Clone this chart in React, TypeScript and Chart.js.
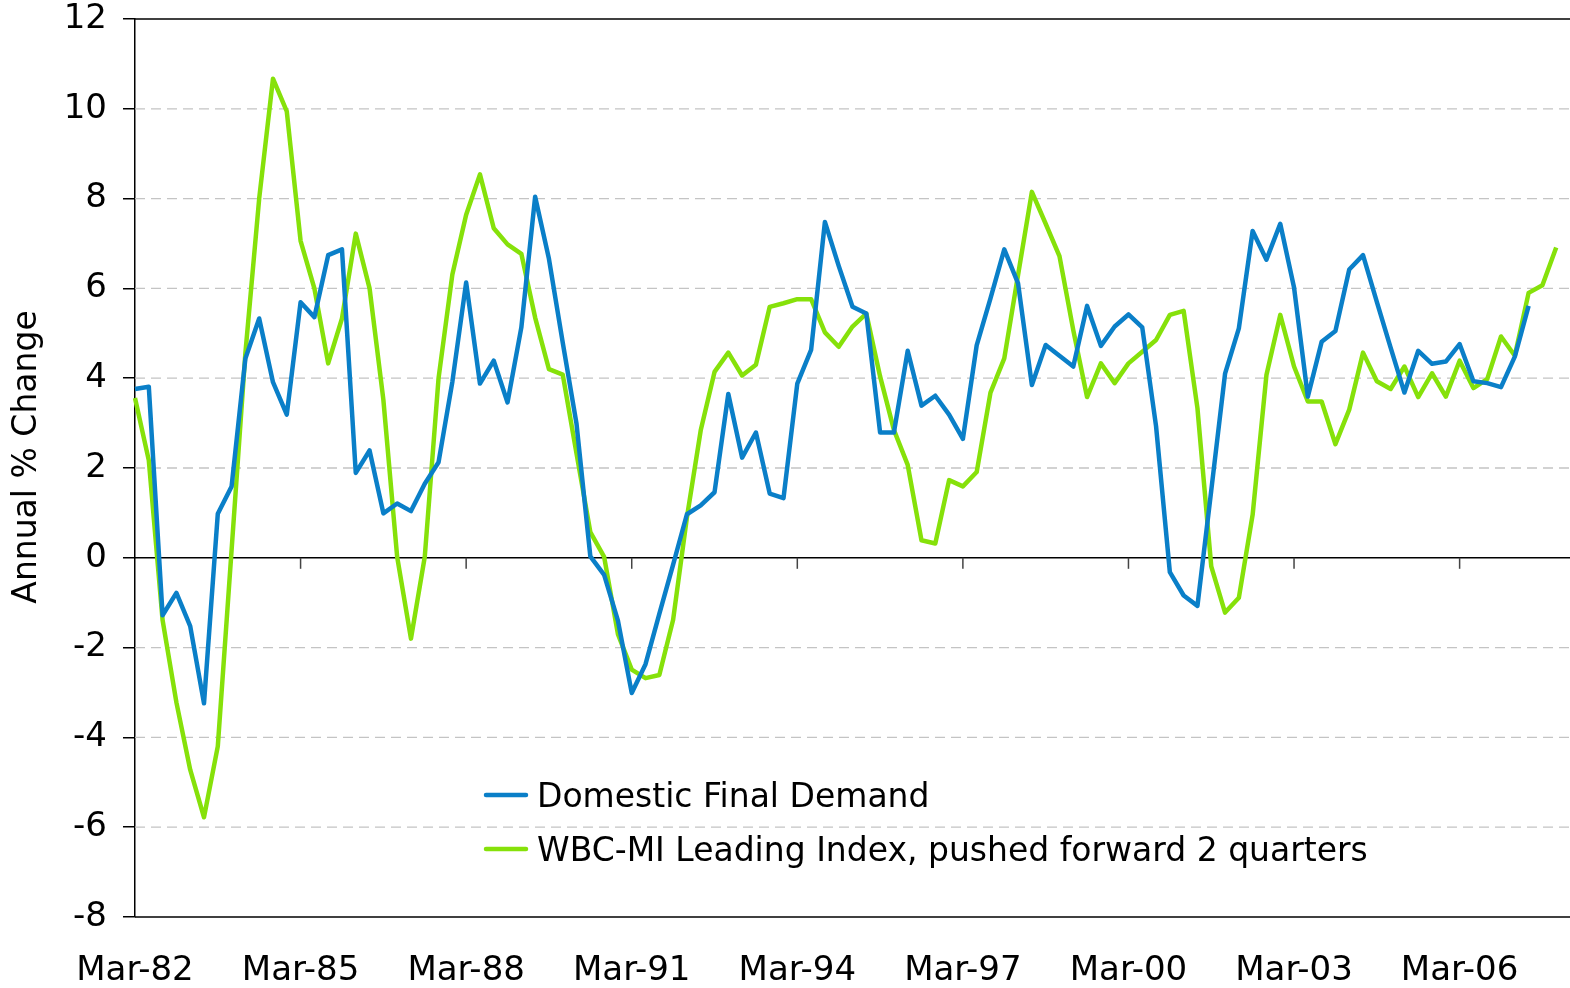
import React, { useEffect, useRef } from "react";
import { Chart, registerables } from "chart.js";

Chart.register(...registerables);

// Quarterly categories, Mar-82 .. Mar-08
const quarterMonths = ["Mar", "Jun", "Sep", "Dec"];
const firstYear = 1982;
const categoryCount = 105;
const categories: string[] = [];
for (let k = 0; k < categoryCount; k++) {
  const yr = firstYear + Math.floor(k / 4);
  categories.push(quarterMonths[k % 4] + "-" + String(yr % 100).padStart(2, "0"));
}
const tickLabelEvery = 12;

const yMin = -8;
const yMax = 12;
const yStep = 2;

const domesticFinalDemand: (number | null)[] = [
  3.76, 3.81, -1.28, -0.78, -1.52, -3.24, 0.98, 1.59, 4.44, 5.33,
  3.91, 3.19, 5.69, 5.36, 6.74, 6.87, 1.89, 2.39, 0.99, 1.21,
  1.04, 1.65, 2.13, 3.92, 6.13, 3.88, 4.39, 3.46, 5.13, 8.04,
  6.66, 4.79, 2.98, 0.03, -0.38, -1.4, -3.01, -2.37, -1.25, -0.15,
  0.97, 1.17, 1.46, 3.65, 2.23, 2.79, 1.43, 1.33, 3.88, 4.63,
  7.48, 6.5, 5.59, 5.44, 2.79, 2.79, 4.61, 3.39, 3.61, 3.19,
  2.65, 4.73, 5.78, 6.87, 6.11, 3.85, 4.74, 4.5, 4.26, 5.61,
  4.72, 5.15, 5.42, 5.13, 2.93, -0.32, -0.84, -1.07, 1.5, 4.1,
  5.11, 7.28, 6.64, 7.44, 6.02, 3.59, 4.81, 5.05, 6.42, 6.74,
  5.7, 4.68, 3.68, 4.61, 4.32, 4.37, 4.76, 3.93, 3.89, 3.8,
  4.48, 5.61, null, null, null,
];

const leadingIndexShifted: (number | null)[] = [
  3.56, 2.17, -1.39, -3.22, -4.72, -5.78, -4.2, 0.17, 4.56, 8.0,
  10.67, 9.94, 7.06, 6.0, 4.33, 5.33, 7.22, 6.0, 3.52, 0.02,
  -1.8, 0.02, 4.0, 6.31, 7.64, 8.54, 7.34, 6.98, 6.77, 5.35,
  4.2, 4.08, 2.32, 0.57, 0.02, -1.7, -2.49, -2.68, -2.61, -1.38,
  0.9, 2.84, 4.14, 4.57, 4.06, 4.3, 5.59, 5.67, 5.76, 5.76,
  5.02, 4.7, 5.15, 5.44, 4.04, 2.85, 2.07, 0.39, 0.32, 1.73,
  1.59, 1.91, 3.68, 4.44, 6.3, 8.15, 7.44, 6.72, 5.07, 3.58,
  4.33, 3.89, 4.33, 4.59, 4.85, 5.41, 5.5, 3.33, -0.19, -1.22,
  -0.89, 0.96, 4.07, 5.41, 4.26, 3.48, 3.48, 2.53, 3.3, 4.57,
  3.93, 3.76, 4.26, 3.58, 4.11, 3.59, 4.39, 3.78, 3.98, 4.93,
  4.5, 5.9, 6.07, 6.91, null,
];

const seriesNames = [
  "Domestic Final Demand",
  "WBC-MI Leading Index, pushed forward 2 quarters",
];
const seriesColors = ["#0a7fc8", "#86e10a"];
const yTitle = "Annual % Change";
const FONT = "'DejaVu Sans', Verdana, sans-serif";

const gridPlugin = {
  id: "customGrid",
  beforeDatasetsDraw(chart: any) {
    const { ctx, chartArea, scales } = chart;
    const x = scales.x;
    const y = scales.y;
    ctx.save();
    for (let v = yMin; v <= yMax; v += yStep) {
      const py = y.getPixelForValue(v);
      ctx.beginPath();
      if (v === 0 || v === yMin || v === yMax) {
        ctx.setLineDash([]);
        ctx.strokeStyle = "#000";
        ctx.lineWidth = 1.5;
      } else {
        ctx.setLineDash([10, 6]);
        ctx.strokeStyle = "#c4c4c4";
        ctx.lineWidth = 1.3;
      }
      ctx.moveTo(chartArea.left, py);
      ctx.lineTo(chartArea.right, py);
      ctx.stroke();
    }
    ctx.setLineDash([]);
    const y0 = y.getPixelForValue(0);
    ctx.strokeStyle = "#444";
    ctx.lineWidth = 1.5;
    for (let i = tickLabelEvery; i < categories.length; i += tickLabelEvery) {
      const px = x.getPixelForValue(i);
      ctx.beginPath();
      ctx.moveTo(px, y0);
      ctx.lineTo(px, y0 + 11);
      ctx.stroke();
    }
    ctx.restore();
  },
};

const textPlugin = {
  id: "customText",
  afterDraw(chart: any) {
    const { ctx } = chart;
    ctx.save();
    // y-axis title
    ctx.save();
    ctx.translate(27, 457);
    ctx.rotate(-Math.PI / 2);
    ctx.font = "33px " + FONT;
    ctx.fillStyle = "#000";
    ctx.textAlign = "center";
    ctx.textBaseline = "middle";
    ctx.fillText(yTitle, 0, 0);
    ctx.restore();
    // legend
    const rows = [795, 849];
    ctx.font = "33px " + FONT;
    ctx.textBaseline = "middle";
    ctx.textAlign = "left";
    seriesNames.forEach((name, i) => {
      ctx.strokeStyle = seriesColors[i];
      ctx.lineWidth = 4.5;
      ctx.lineCap = "round";
      ctx.beginPath();
      ctx.moveTo(486, rows[i]);
      ctx.lineTo(526, rows[i]);
      ctx.stroke();
      ctx.fillStyle = "#000";
      ctx.fillText(name, 537, rows[i] + 3);
    });
    ctx.restore();
  },
};

export default function App() {
  const canvasRef = useRef<HTMLCanvasElement | null>(null);

  useEffect(() => {
    document.body.style.margin = "0";
    const canvas = canvasRef.current;
    if (!canvas) return;
    const chart = new Chart(canvas, {
      type: "line",
      data: {
        labels: categories,
        datasets: [
          {
            label: seriesNames[0],
            data: domesticFinalDemand,
            borderColor: seriesColors[0],
            backgroundColor: seriesColors[0],
            borderWidth: 4.5,
            pointRadius: 0,
            tension: 0,
            borderJoinStyle: "round",
            spanGaps: false,
          },
          {
            label: seriesNames[1],
            data: leadingIndexShifted,
            borderColor: seriesColors[1],
            backgroundColor: seriesColors[1],
            borderWidth: 4.5,
            pointRadius: 0,
            tension: 0,
            borderJoinStyle: "round",
            spanGaps: false,
          },
        ],
      },
      options: {
        responsive: false,
        animation: false,
        devicePixelRatio: 1,
        layout: { padding: { top: 19, right: 0, left: 0, bottom: 0 } },
        plugins: {
          legend: { display: false },
          tooltip: { enabled: false },
        },
        scales: {
          x: {
            type: "category",
            offset: false,
            grid: { display: false, drawTicks: false },
            border: { display: false },
            ticks: {
              autoSkip: false,
              maxRotation: 0,
              minRotation: 0,
              padding: 34,
              color: "#000",
              font: { family: FONT, size: 34 },
              callback: function (this: any, value: any, index: number) {
                return index % tickLabelEvery === 0 ? categories[index] : null;
              },
            },
            afterFit(scale: any) {
              scale.height = 71;
              scale.paddingLeft = 0;
              scale.paddingRight = 0;
            },
          },
          y: {
            min: yMin,
            max: yMax,
            grid: {
              display: true,
              drawOnChartArea: false,
              drawTicks: true,
              tickLength: 12,
              tickColor: "#000",
              tickWidth: 1.5,
              lineWidth: 1.5,
              color: "#000",
            },
            border: { display: true, color: "#000", width: 1.5 },
            ticks: {
              stepSize: yStep,
              padding: 16,
              color: "#000",
              font: { family: FONT, size: 34 },
            },
            title: { display: false },
            afterFit(scale: any) {
              scale.width = 135;
              scale.paddingTop = 0;
              scale.paddingBottom = 0;
            },
          },
        },
      },
      plugins: [gridPlugin, textPlugin],
    });
    return () => chart.destroy();
  }, []);

  return (
    <div style={{ position: "absolute", left: 0, top: 0, width: 1570, height: 988, background: "#fff" }}>
      <canvas ref={canvasRef} width={1570} height={988} style={{ width: 1570, height: 988 }} />
    </div>
  );
}
